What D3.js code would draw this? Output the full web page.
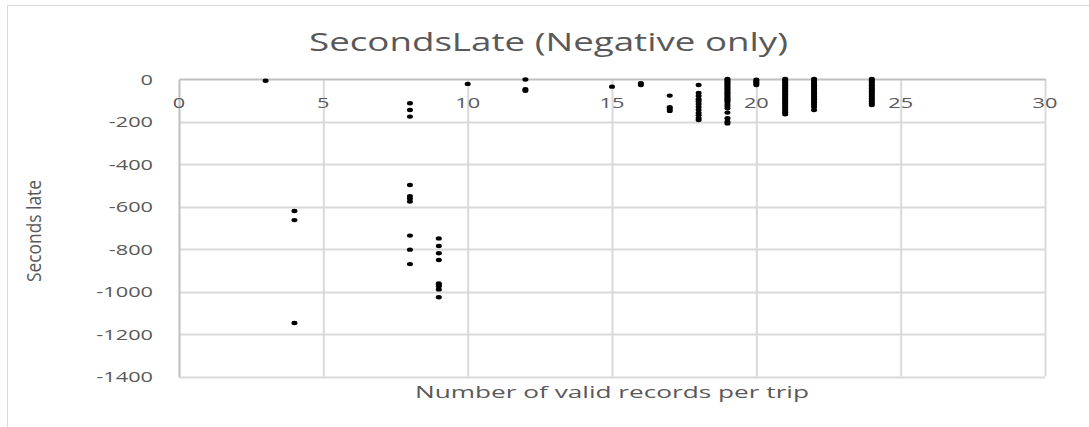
<!DOCTYPE html>
<html>
<head>
<meta charset="utf-8">
<script src="https://cdn.jsdelivr.net/npm/d3@7"></script>
<style>
  html, body { margin: 0; padding: 0; background: #fff; }
  svg { display: block; }
  text { font-family: "Open Sans", sans-serif; fill: #595959; }
</style>
</head>
<body>
<svg id="chart" width="1089" height="427"></svg>
<script>
// ---- data ----
const chartTitle = "SecondsLate (Negative only)";
const xTitle = "Number of valid records per trip";
const yTitle = "Seconds late";
const xTicks = [0, 5, 10, 15, 20, 25, 30];
const yTicks = [0, -200, -400, -600, -800, -1000, -1200, -1400];

// records per trip (x) and the negative SecondsLate values observed at each (y)
const records = [3, 4, 8, 9, 10, 12, 15, 16, 17, 18, 19, 20, 21, 22, 24];
const secondsLate = [
  [-8],
  [-621, -664, -1148],
  [-114, -146, -177, -499, -551, -562, -577, -737, -803, -871],
  [-750, -786, -820, -852, -962, -968, -975, -990, -1027],
  [-23],
  [-2, -48, -55],
  [-36],
  [-20, -28],
  [-78, -133, -141, -150],
  [-28, -66, -80, -95, -106, -118, -131, -145, -160, -171, -184, -193],
  [0, -5, -11, -16, -22, -28, -35, -41, -48, -55, -62, -68, -75, -82, -88, -95, -101, -107, -118, -127, -138, -158, -185, -201, -209],
  [-3, -9, -15, -22, -28],
  [0, -7, -14, -21, -29, -36, -43, -51, -58, -66, -73, -80, -88, -95, -103, -110, -117, -125, -132, -140, -148, -156, -166],
  [0, -7, -14, -22, -29, -37, -44, -52, -60, -67, -75, -82, -90, -97, -105, -113, -121, -132, -146],
  [0, -7, -14, -21, -29, -36, -44, -51, -59, -66, -74, -82, -90, -98, -106, -114, -122]
];

// ---- layout ----
const svg = d3.select("#chart");
const SX = 1.45; // horizontal stretch of the reference's text
const x = d3.scaleLinear().domain([0, 30]).range([179, 1045]);
const y = d3.scaleLinear().domain([-1400, 0]).range([376.5, 79]);

// outer chart border
svg.append("rect")
  .attr("x", 7.5).attr("y", 5.5).attr("width", 1100).attr("height", 440)
  .attr("fill", "none").attr("stroke", "#d9d9d9").attr("stroke-width", 1);

function stretchedText(g, tx, ty, str, size, anchor) {
  return g.append("text")
    .attr("transform", `translate(${tx},${ty}) scale(${SX},1)`)
    .attr("text-anchor", anchor)
    .attr("font-size", size)
    .text(str);
}

// gridlines
const grid = svg.append("g");
grid.selectAll("line.v").data(xTicks.filter(d => d !== 0)).join("line")
  .attr("x1", d => x(d) + 0.5).attr("x2", d => x(d) + 0.5)
  .attr("y1", y(0)).attr("y2", y(-1400))
  .attr("stroke", "#d9d9d9").attr("stroke-width", 2);
grid.selectAll("line.h").data(yTicks.filter(d => d !== 0)).join("line")
  .attr("x1", x(0)).attr("x2", x(30))
  .attr("y1", d => Math.round(y(d)) + 0.5).attr("y2", d => Math.round(y(d)) + 0.5)
  .attr("stroke", "#d9d9d9").attr("stroke-width", 2);

// axes via d3 (domain lines), custom styling
const xAxis = d3.axisBottom(x).tickValues(xTicks).tickSize(0).tickFormat("");
svg.append("g").attr("transform", `translate(0,${y(0)})`).call(xAxis)
  .call(g => g.select(".domain").attr("stroke", "#bfbfbf").attr("stroke-width", 2));
const yAxis = d3.axisLeft(y).tickValues(yTicks).tickSize(0).tickFormat("");
svg.append("g").attr("transform", `translate(${x(0)},0)`).call(yAxis)
  .call(g => g.select(".domain").attr("stroke", "#bfbfbf").attr("stroke-width", 2));

// tick labels
const lab = svg.append("g");
xTicks.forEach(t => stretchedText(lab, x(t), 108, String(t), 15, "middle"));
yTicks.forEach(t => stretchedText(lab, 153, y(t) + 5.5, String(t), 15, "end"));

// points
const pts = [];
records.forEach((r, i) => secondsLate[i].forEach(v => pts.push({ r, v })));
svg.append("g").selectAll("ellipse").data(pts).join("ellipse")
  .attr("cx", d => x(d.r)).attr("cy", d => y(d.v))
  .attr("rx", 3).attr("ry", 2.2)
  .attr("fill", "#000");

// titles
svg.append("text")
  .attr("x", 309).attr("y", 51)
  .attr("font-size", 25)
  .attr("textLength", 479).attr("lengthAdjust", "spacingAndGlyphs")
  .text(chartTitle);

svg.append("text")
  .attr("x", 415).attr("y", 398)
  .attr("font-size", 15.5)
  .attr("textLength", 394).attr("lengthAdjust", "spacingAndGlyphs")
  .text(xTitle);

svg.append("text")
  .attr("transform", `translate(41,231) rotate(-90) scale(1,1.3)`)
  .attr("text-anchor", "middle")
  .attr("font-size", 16)
  .attr("textLength", 102).attr("lengthAdjust", "spacingAndGlyphs")
  .text(yTitle);
</script>
</body>
</html>
